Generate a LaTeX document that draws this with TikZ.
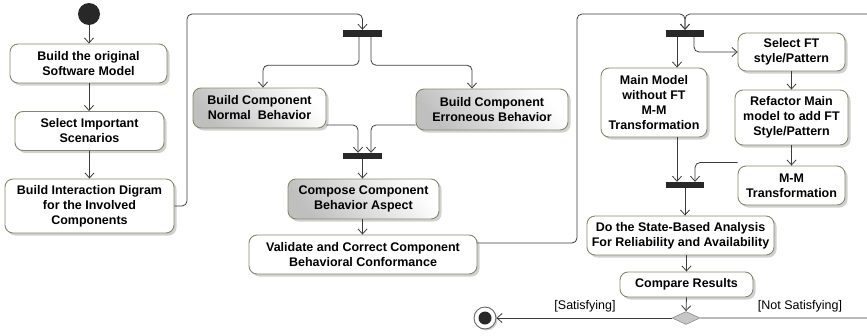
\documentclass[tikz,border=0pt]{standalone}
\usepackage{fontspec}
\setmainfont{Liberation Sans}
\usetikzlibrary{arrows.meta,shapes.geometric,shadows}

\definecolor{actborder}{RGB}{135,135,105}
\definecolor{flowcol}{RGB}{60,60,60}
\definecolor{barcol}{RGB}{40,40,40}

\tikzset{
  act/.style={draw=actborder, line width=0.9pt, rounded corners=8pt, fill=white,
    align=center, inner sep=0pt,
    font=\fontsize{12.5}{15}\selectfont\bfseries,
    drop shadow={shadow xshift=2.5pt, shadow yshift=-2.5pt, fill=black!30, opacity=0.6}},
  gact/.style={act, top color=white, bottom color=black!25, shading angle=-50},
  syncbar/.style={fill=barcol, draw=none, inner sep=0pt, minimum width=39pt},
  flow/.style={draw=flowcol, line width=0.8pt, rounded corners=5pt,
    -{Straight Barb[length=5pt, width=9pt]}},
  guard/.style={font=\fontsize{12.5}{15}\selectfont, inner sep=0pt}
}

\begin{document}
\begin{tikzpicture}[x=1pt, y=-1pt]
  \useasboundingbox (0,0) rectangle (867,335);
  \clip (0,0) rectangle (867,335);

  % initial and final nodes
  \node[circle, fill=barcol, minimum size=22pt, inner sep=0pt] (start) at (89,14) {};
  \node[circle, draw=black!60, line width=0.9pt, fill=white, minimum size=22pt, inner sep=0pt,
        drop shadow={shadow xshift=1.5pt, shadow yshift=-1.5pt, fill=black!30, opacity=0.6}] (final) at (485,318) {};
  \node[circle, fill=barcol, minimum size=13pt, inner sep=0pt] (finaldot) at (final.center) {};

  % first column
  \node[act, minimum width=157pt, minimum height=39pt] (orig) at (88.5,63.5) {Build the original\\Software Model};
  \node[act, minimum width=149pt, minimum height=39pt] (scen) at (89.5,131) {Select Important\\Scenarios};
  \node[act, minimum width=169pt, minimum height=54pt] (inter) at (89.5,206) {Build Interaction Digram\\for the Involved\\Components};

  % component behaviour
  \node[syncbar, minimum height=7pt] (fork1) at (362.5,33.5) {};
  \node[gact, minimum width=133pt, minimum height=40pt] (normal) at (259.5,108) {Build Component\\Normal\ \ Behavior};
  \node[gact, minimum width=152pt, minimum height=41pt] (erron) at (492,109.5) {Build Component\\Erroneous Behavior};
  \node[syncbar, minimum height=6pt] (join1) at (362.5,156) {};
  \node[gact, minimum width=151pt, minimum height=40pt] (compose) at (363.5,199) {Compose Component\\Behavior Aspect};
  \node[act, minimum width=228pt, minimum height=39pt] (valid) at (363,254.5) {Validate and Correct Component\\Behavioral Conformance};

  % fault tolerance and analysis
  \node[syncbar, minimum height=7pt, minimum width=38pt] (fork2) at (685,33.5) {};
  \node[act, minimum width=106pt, minimum height=69pt] (mainm) at (654,102.5) {Main Model\\without FT\\M-M\\Transformation};
  \node[act, minimum width=107pt, minimum height=38pt] (selft) at (791.5,52) {Select FT\\style/Pattern};
  \node[act, minimum width=113pt, minimum height=55pt] (refac) at (791.5,117.5) {Refactor Main\\model to add FT\\Style/Pattern};
  \node[act, minimum width=107pt, minimum height=39pt] (mmt) at (791.5,185.5) {M-M\\Transformation};
  \node[syncbar, minimum height=6pt, minimum width=38pt] (join2) at (685,185) {};
  \node[act, minimum width=187pt, minimum height=39pt] (state) at (680.5,235.5) {Do the State-Based Analysis\\For Reliability and Availability};
  \node[act, minimum width=133pt, minimum height=25pt] (comp) at (686.5,284.5) {Compare Results};
  \node[diamond, fill=black!22, draw=black!45, line width=0.6pt, inner sep=0pt,
        minimum width=28pt, minimum height=13pt] (dec) at (686,318) {};

  % guards
  \node[guard] (sat) at (585,306) {[Satisfying]};
  \node[guard] (nsat) at (800,306) {[Not Satisfying]};

  % routing points
  \coordinate (up1) at (187,14);
  \coordinate (up2) at (577,14);
  \coordinate (back) at (890,14);

  % flows
  \draw[flow] (start) -- (orig.north -| start);
  \draw[flow] (orig.south -| start) -- (scen.north -| start);
  \draw[flow] (scen.south) -- (inter.north);
  \draw[flow] (inter.east) -| (up1) -| (fork1.north);

  \draw[flow] ([xshift=-3.5pt]fork1.south) -- ++(0,28) -| ([xshift=3.5pt]normal.north);
  \draw[flow] ([xshift=8.5pt]fork1.south) -- ++(0,28) -| ([xshift=-20pt]erron.north);
  \draw[flow] ([yshift=-17pt]normal.east) -| ([xshift=-4.5pt]join1.north);
  \draw[flow] ([yshift=-15.5pt]erron.west) -| ([xshift=8.5pt]join1.north);
  \draw[flow] (join1.south) -- (join1.south |- compose.north);
  \draw[flow] (compose.south -| join1) -- (valid.north -| join1);
  \draw[flow] ([yshift=11.5pt]valid.east) -| (up2) -| (fork2.north);

  \draw[flow] ([xshift=-8pt]fork2.south) -- ([xshift=-8pt]fork2.south |- mainm.north);
  \draw[flow] ([xshift=9pt]fork2.south) |- (selft.west);
  \draw[flow] (selft.south) -- (refac.north);
  \draw[flow] (refac.south) -- (mmt.north);
  \draw[flow] ([xshift=23pt]mainm.south) -- ([xshift=-8pt]join2.north);
  \draw[flow] ([yshift=3pt]mmt.north west) -| ([xshift=10pt]join2.north);
  \draw[flow] (join2.south) -- (join2.south |- state.north);
  \draw[flow] (comp.north |- state.south) -- (comp.north);
  \draw[flow] (comp.south) -- (dec.north);
  \draw[flow] (dec.west) -- (final.east);
  \draw[flow] (dec.east) -| (back) -| (fork2.north);
\end{tikzpicture}
\end{document}
